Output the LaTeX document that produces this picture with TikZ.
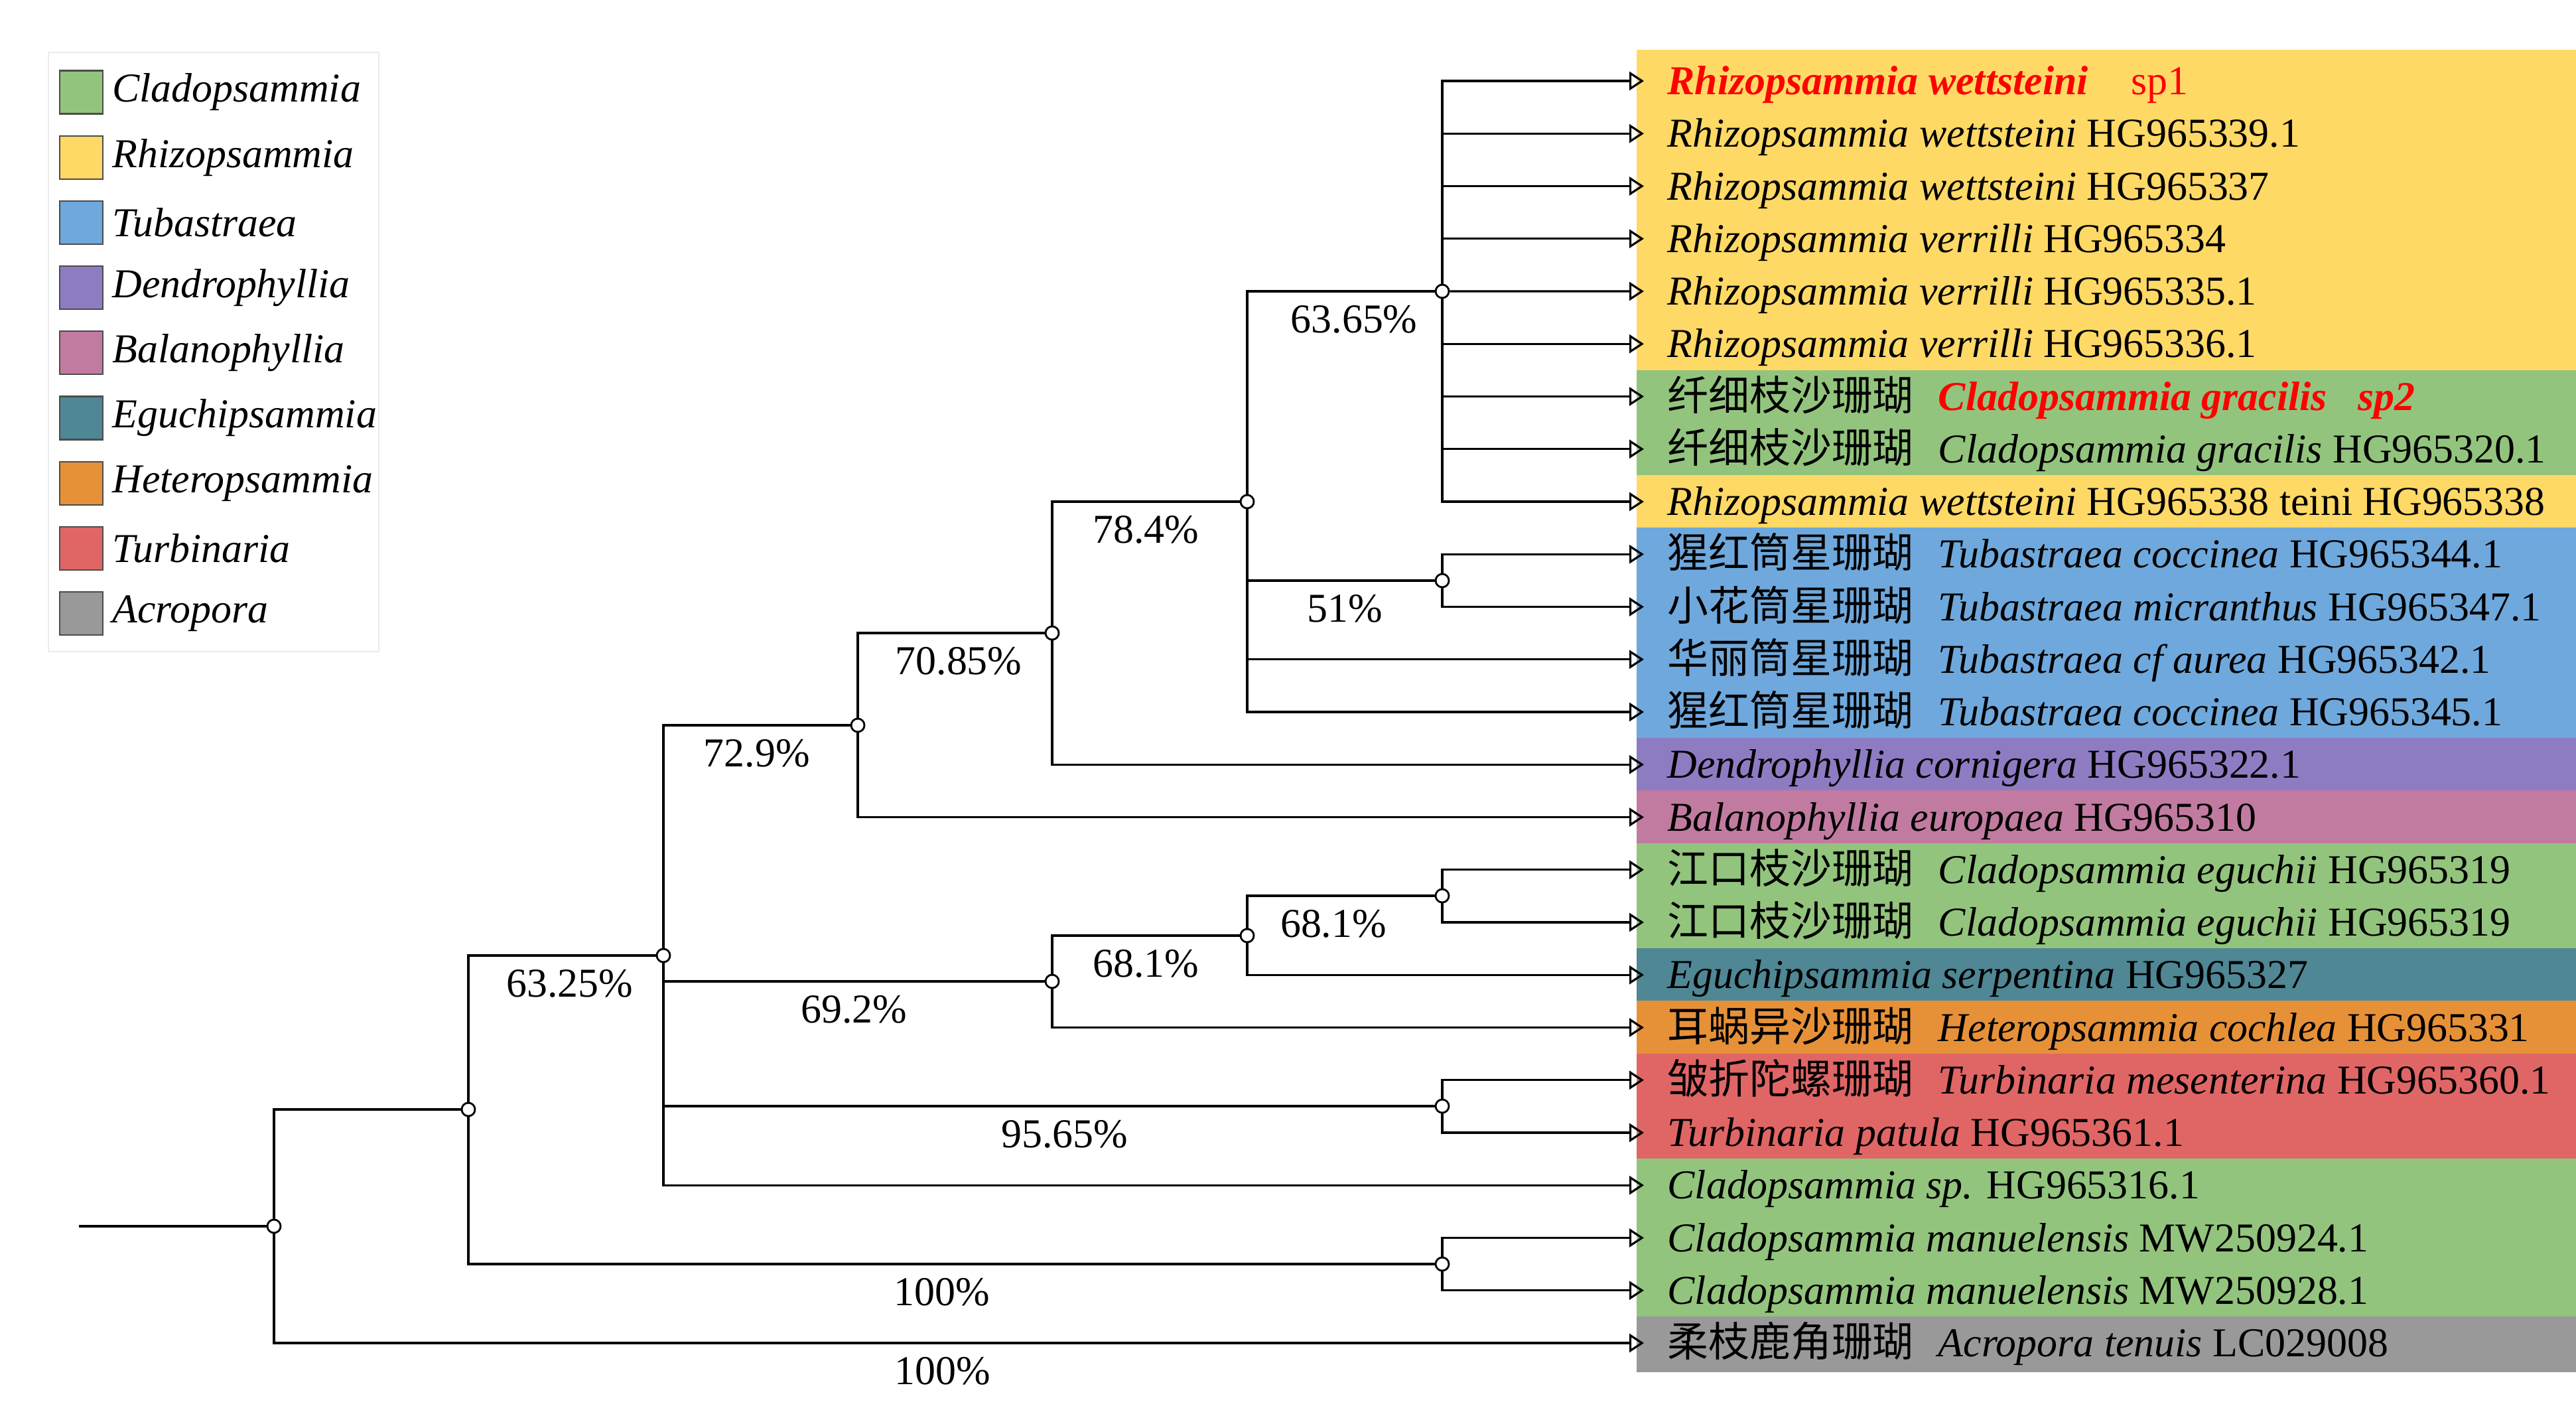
\documentclass[tikz,border=0pt]{standalone}
\usepackage{fontspec}
\setmainfont{Liberation Serif}
\newfontfamily\cjk{Noto Sans CJK SC}
\usepackage{tikz}
\usetikzlibrary{arrows.meta,positioning}
\definecolor{cclad}{HTML}{93C47D}
\definecolor{crhiz}{HTML}{FFD966}
\definecolor{ctuba}{HTML}{6FA8DC}
\definecolor{cdend}{HTML}{8E7CC3}
\definecolor{cbala}{HTML}{C27BA0}
\definecolor{cegu}{HTML}{4F8794}
\definecolor{chet}{HTML}{E69138}
\definecolor{cturb}{HTML}{E06666}
\definecolor{cacro}{HTML}{999999}
\newcommand{\lsize}{\fontsize{17.6}{21}\selectfont}
\tikzstyle{nd}=[circle,draw,fill=white,inner sep=0pt,minimum size=0.2cm,line width=0.8pt]
\tikzstyle{leaf}=[anchor=west,inner xsep=0.34cm,inner ysep=0pt,text height=0.5cm,text depth=0.09cm,font=\lsize]
\tikzstyle{pc}=[below,font=\lsize,yshift=-0.08cm]
\tikzstyle{sw}=[draw=black!70,line width=0.6pt,minimum size=0.65cm,inner sep=0pt]
\tikzstyle{lg}=[anchor=west,font=\lsize\itshape]

\begin{document}
\begin{tikzpicture}[
      >={Triangle[open,length=0.22cm,width=0.28cm]},
      line width=0.9pt
    ]
  \useasboundingbox (0,0) rectangle (38.83,-21.33);

  % colour bands behind the leaves
  \fill[crhiz] (24.67,-0.75) rectangle (38.83,-5.58);
  \fill[cclad] (24.67,-5.58) rectangle (38.83,-7.16);
  \fill[crhiz] (24.67,-7.16) rectangle (38.83,-7.95);
  \fill[ctuba] (24.67,-7.95) rectangle (38.83,-11.12);
  \fill[cdend] (24.67,-11.12) rectangle (38.83,-11.91);
  \fill[cbala] (24.67,-11.91) rectangle (38.83,-12.71);
  \fill[cclad] (24.67,-12.71) rectangle (38.83,-14.29);
  \fill[cegu] (24.67,-14.29) rectangle (38.83,-15.08);
  \fill[chet] (24.67,-15.08) rectangle (38.83,-15.88);
  \fill[cturb] (24.67,-15.88) rectangle (38.83,-17.46);
  \fill[cclad] (24.67,-17.46) rectangle (38.83,-19.84);
  \fill[cacro] (24.67,-19.84) rectangle (38.83,-20.68);

  % leaves
  \foreach \row/\lab in {
    1/{\textcolor{red}{\textbf{\textit{Rhizopsammia wettsteini}}\hspace{1.05em}sp1}},
    2/{\textit{Rhizopsammia wettsteini} HG965339.1},
    3/{\textit{Rhizopsammia wettsteini} HG965337},
    4/{\textit{Rhizopsammia verrilli} HG965334},
    5/{\textit{Rhizopsammia verrilli} HG965335.1},
    6/{\textit{Rhizopsammia verrilli} HG965336.1},
    7/{{\cjk 纤细枝沙珊瑚}\hspace{0.6em}\textcolor{red}{\textbf{\textit{Cladopsammia gracilis}\hspace{0.75em}\textit{sp2}}}},
    8/{{\cjk 纤细枝沙珊瑚}\hspace{0.6em}\textit{Cladopsammia gracilis} HG965320.1},
    9/{\textit{Rhizopsammia wettsteini} HG965338 teini HG965338},
    10/{{\cjk 猩红筒星珊瑚}\hspace{0.6em}\textit{Tubastraea coccinea} HG965344.1},
    11/{{\cjk 小花筒星珊瑚}\hspace{0.6em}\textit{Tubastraea micranthus} HG965347.1},
    12/{{\cjk 华丽筒星珊瑚}\hspace{0.6em}\textit{Tubastraea cf aurea} HG965342.1},
    13/{{\cjk 猩红筒星珊瑚}\hspace{0.6em}\textit{Tubastraea coccinea} HG965345.1},
    14/{\textit{Dendrophyllia cornigera} HG965322.1},
    15/{\textit{Balanophyllia europaea} HG965310},
    16/{{\cjk 江口枝沙珊瑚}\hspace{0.6em}\textit{Cladopsammia eguchii} HG965319},
    17/{{\cjk 江口枝沙珊瑚}\hspace{0.6em}\textit{Cladopsammia eguchii} HG965319},
    18/{\textit{Eguchipsammia serpentina} HG965327},
    19/{{\cjk 耳蜗异沙珊瑚}\hspace{0.6em}\textit{Heteropsammia cochlea} HG965331},
    20/{{\cjk 皱折陀螺珊瑚}\hspace{0.6em}\textit{Turbinaria mesenterina} HG965360.1},
    21/{\textit{Turbinaria patula} HG965361.1},
    22/{\textit{Cladopsammia sp.} HG965316.1},
    23/{\textit{Cladopsammia manuelensis} MW250924.1},
    24/{\textit{Cladopsammia manuelensis} MW250928.1},
    25/{{\cjk 柔枝鹿角珊瑚}\hspace{0.6em}\textit{Acropora tenuis} LC029008}}
    \node[leaf] (l\row) at (24.78,{-1.22-(\row-1)*0.7925}) {\lab};

  % inner nodes
  \node[nd] (root) at (4.13,-18.48) {};
  \node[nd] (nA) at (7.06,-16.72) {};
  \node[nd] (n6325) at (10.00,-14.40) {};
  \node[nd] (n729) at (12.93,-10.93) {};
  \node[nd] (n7085) at (15.86,-9.54) {};
  \node[nd] (n784) at (18.80,-7.56) {};
  \node[nd] (n6365) at (21.74,-4.39) {};
  \node[nd] (n51) at (21.74,-8.75) {};
  \node[nd] (n692) at (15.86,-14.79) {};
  \node[nd] (n681b) at (18.80,-14.10) {};
  \node[nd] (n681a) at (21.74,-13.50) {};
  \node[nd] (n9565) at (21.74,-16.67) {};
  \node[nd] (n100) at (21.74,-19.05) {};
  \coordinate (start) at (1.19,-18.48);

  \draw (start) -- (root);
  \draw (root) |- (nA);
  \draw[->] (root) |- node[pc,pos=.744] {100\%} (l25);
  \draw (nA) |- node[pc,pos=.77] {63.25\%} (n6325);
  \draw (nA) |- node[pc,pos=.745] {100\%} (n100);
  \draw[->] (n100) |- (l23);
  \draw[->] (n100) |- (l24);
  \draw (n6325) |- node[pc,pos=.75] {72.9\%} (n729);
  \draw (n6325) |- node[pc,pos=.75] {69.2\%} (n692);
  \draw (n6325) |- node[pc,pos=.76] {95.65\%} (n9565);
  \draw[->] (n6325) |- (l22);
  \draw (n729) |- node[pc,pos=.77] {70.85\%} (n7085);
  \draw[->] (n729) |- (l15);
  \draw (n7085) |- node[pc,pos=.75] {78.4\%} (n784);
  \draw[->] (n7085) |- (l14);
  \draw (n784) |- node[pc,pos=.785] {63.65\%} (n6365);
  \draw (n784) |- node[pc,pos=.76] {51\%} (n51);
  \draw[->] (n784) |- (l12);
  \draw[->] (n784) |- (l13);
  \foreach \row in {1,2,3,4,6,7,8,9}
    \draw[->] (n6365) |- (l\row);
  \draw[->] (n6365) -- (l5);
  \draw[->] (n51) |- (l10);
  \draw[->] (n51) |- (l11);
  \draw (n692) |- node[pc,pos=.75] {68.1\%} (n681b);
  \draw[->] (n692) |- (l19);
  \draw (n681b) |- node[pc,pos=.73] {68.1\%} (n681a);
  \draw[->] (n681b) |- (l18);
  \draw[->] (n681a) |- (l16);
  \draw[->] (n681a) |- (l17);
  \draw[->] (n9565) |- (l20);
  \draw[->] (n9565) |- (l21);

  % legend
  \draw[gray!15,line width=0.6pt] (0.73,-0.79) rectangle (5.71,-9.82);
  \foreach \row/\col/\gen in {1/cclad/Cladopsammia,2/crhiz/Rhizopsammia,3/ctuba/Tubastraea,
      4/cdend/Dendrophyllia,5/cbala/Balanophyllia,6/cegu/Eguchipsammia,
      7/chet/Heteropsammia,8/cturb/Turbinaria,9/cacro/Acropora}{
    \node[sw,fill=\col] (sw\row) at (1.225,{-1.39-(\row-1)*0.982}) {};
    \node[lg] (gen\row) [right=0pt of sw\row] {\gen};
  }
\end{tikzpicture}
\end{document}
